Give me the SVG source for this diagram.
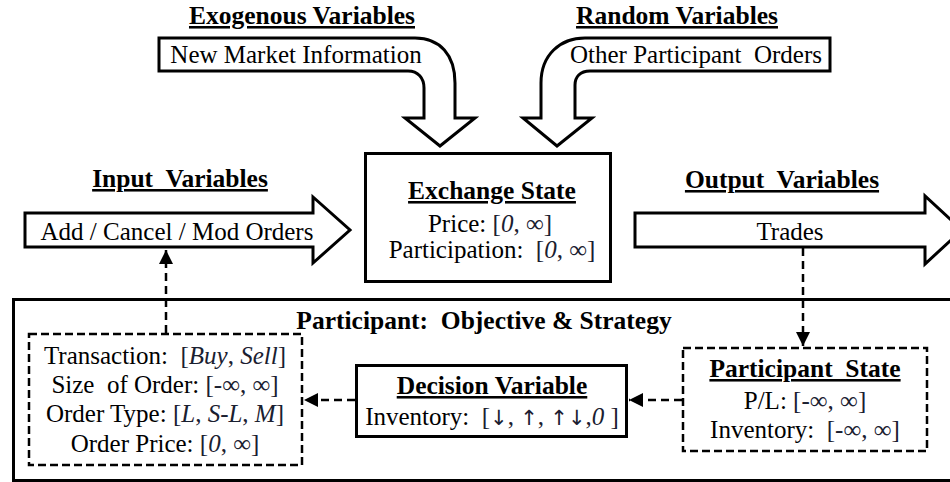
<svg xmlns="http://www.w3.org/2000/svg" width="950" height="482" viewBox="0 0 950 482">
<style>
text{font-family:"Liberation Serif","Times New Roman",serif;font-size:25px;fill:#000;text-anchor:middle;white-space:pre}
.b{font-weight:bold;font-size:25.5px}
.u{text-decoration:underline}
.m{fill:#1a2030}
.i{font-style:italic}
.ar{font-family:"DejaVu Sans",sans-serif;font-size:21px}
.blk{fill:#fff;stroke:#000;stroke-width:3;stroke-linejoin:miter}
.box{fill:#fff;stroke:#000;stroke-width:3}
.dbox{fill:#fff;stroke:#000;stroke-width:2.5;stroke-dasharray:8 4}
.dl{fill:none;stroke:#000;stroke-width:2.5;stroke-dasharray:8 5}
</style>
<defs>
<marker id="ah" viewBox="0 0 10 10" refX="10" refY="5" markerWidth="14" markerHeight="14" markerUnits="userSpaceOnUse" orient="auto">
<path d="M0,0 L10,5 L0,10 Z" fill="#000"/>
</marker>
</defs>
<rect width="950" height="482" fill="#fff"/>

<g id="participant">
<rect x="13.5" y="299.5" width="950" height="181" fill="none" stroke="#000" stroke-width="3"/>
<text class="b" x="484" y="329">Participant:  Objective &amp; Strategy</text>
</g>

<g id="exogenous">
<text class="b u" x="302" y="24">Exogenous Variables</text>
<path class="blk" d="M159,38 H415 C440,38 455,55 455,83 V118 H475 L440,146 L405,118 H424 V88 C424,78 418,71 408,71 H159 Z"/>
<text x="296" y="63">New Market Information</text>
</g>

<g id="random">
<text class="b u" x="677" y="24">Random Variables</text>
<path class="blk" d="M830,38 H585 C560,38 541,55 541,83 V118 H523 L557,146 L592,118 H575 V85 C575,77 580,71 590,71 H830 Z"/>
<text x="696" y="63">Other Participant  Orders</text>
</g>

<g id="input">
<text class="b u" x="180" y="187">Input  Variables</text>
<path class="blk" d="M25,213 H313 V197 L350,230 L313,263 V247 H25 Z"/>
<text x="177" y="240">Add / Cancel / Mod Orders</text>
</g>

<g id="exchange">
<rect class="box" x="365.5" y="153.5" width="245" height="128"/>
<text class="b u" x="492" y="199">Exchange State</text>
<text x="490" y="232">Price: <tspan class="m">[<tspan class="i">0</tspan>, ∞]</tspan></text>
<text x="492" y="258">Participation:  <tspan class="m">[<tspan class="i">0</tspan>, ∞]</tspan></text>
</g>

<g id="output">
<text class="b u" x="782" y="188">Output  Variables</text>
<path class="blk" d="M635,213 H925 V196 L962,230 L925,264 V247 H635 Z"/>
<text x="790" y="240">Trades</text>
</g>

<g id="orders">
<rect class="dbox" x="29" y="334" width="273" height="131"/>
<text x="165" y="364">Transaction:  <tspan class="m">[<tspan class="i">Buy</tspan>, <tspan class="i">Sell</tspan>]</tspan></text>
<text x="165" y="393">Size  of Order: <tspan class="m">[-∞, ∞]</tspan></text>
<text x="165" y="422">Order Type: <tspan class="m">[<tspan class="i">L</tspan>, <tspan class="i">S-L</tspan>, <tspan class="i">M</tspan>]</tspan></text>
<text x="165" y="452">Order Price: <tspan class="m">[<tspan class="i">0</tspan>, ∞]</tspan></text>
</g>

<g id="decision">
<rect class="box" x="356.5" y="365.5" width="270" height="71"/>
<text class="b u" x="492" y="394">Decision Variable</text>
<text x="492" y="425">Inventory:  <tspan class="m">[<tspan class="ar">↓</tspan>, <tspan class="ar">↑</tspan>, <tspan class="ar">↑↓</tspan>,<tspan class="i">0</tspan> ]</tspan></text>
</g>

<g id="pstate">
<rect class="dbox" x="683" y="348" width="244" height="103"/>
<text class="b u" x="805" y="377">Participant  State</text>
<text x="805" y="409">P/L: <tspan class="m">[-∞, ∞]</tspan></text>
<text x="805" y="438">Inventory:  <tspan class="m">[-∞, ∞]</tspan></text>
</g>

<g id="connectors">
<path class="dl" d="M803,248 V346" marker-end="url(#ah)"/>
<path class="dl" d="M682,400 H629" marker-end="url(#ah)"/>
<path class="dl" d="M355,400 H304" marker-end="url(#ah)"/>
<path class="dl" d="M166,333 V250" marker-end="url(#ah)"/>
</g>
</svg>
